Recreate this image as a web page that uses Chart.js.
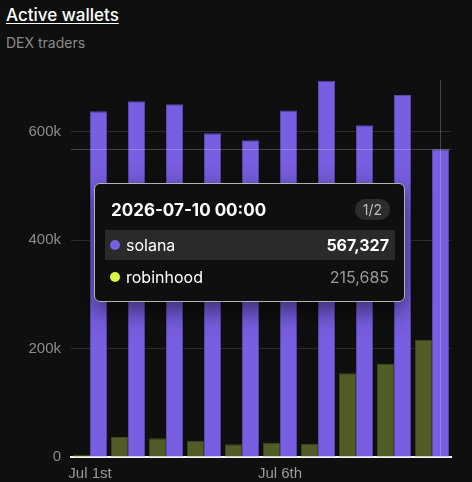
<!DOCTYPE html>
<html>
<head>
<meta charset="utf-8">
<script src="https://cdn.jsdelivr.net/npm/chart.js@4"></script>
<style>
  html, body { margin: 0; padding: 0; background: #0f0f0f; }
  body { width: 472px; height: 482px; position: relative; overflow: hidden; font-family: Inter, "Noto Sans", sans-serif; }
  #title { position: absolute; left: 6px; top: 5px; color: #fff; font-size: 17px; font-weight: 500; text-decoration: underline; text-underline-offset: 2px; }
  #subtitle { position: absolute; left: 6px; top: 34px; color: #8a8a8a; font-size: 14px; }
  #wrap { position: absolute; left: 0; top: 0; width: 472px; height: 482px; }
  #tip { position: absolute; left: 94px; top: 183px; width: 309px; height: 117px; background: #0f0f0f;
         border: 1px solid #b4b4b4; border-radius: 6px; box-shadow: 0 8px 24px rgba(0,0,0,0.55); box-sizing: content-box; }
  #tip .head { position: absolute; left: 16px; top: 16px; color: #fff; font-size: 17px; font-weight: 700; }
  #tip .badge { position: absolute; right: 14px; top: 15px; background: #2c2c2c; color: #bdbdbd; font-size: 14px;
                border-radius: 10px; padding: 2px 8px; }
  #tip .row { position: absolute; left: 10px; width: 290px; height: 30px; display: flex; align-items: center; font-size: 16px; color: #fff; }
  #tip .row.on { background: #2a2a2a; }
  #tip .dot { width: 10px; height: 10px; border-radius: 50%; margin-left: 5px; margin-right: 6px; }
  #tip .val { margin-left: auto; margin-right: 6px; }
</style>
</head>
<body>
<div id="title">Active wallets</div>
<div id="subtitle">DEX traders</div>
<div id="wrap"><canvas id="chart"></canvas></div>
<div id="tip"></div>
<script>
const categories = ["2026-07-01", "2026-07-02", "2026-07-03", "2026-07-04", "2026-07-05",
                    "2026-07-06", "2026-07-07", "2026-07-08", "2026-07-09", "2026-07-10"];
const tickLabels = ["Jul 1st", "", "", "", "", "Jul 6th", "", "", "", ""];
const yTicks = [0, 200000, 400000, 600000];
const robinhood = [4000, 36900, 34500, 30000, 23400, 25800, 24500, 154300, 171400, 215685];
const solana = [637200, 655700, 650200, 596700, 583800, 639000, 693600, 611400, 667300, 567327];
const hoverIndex = 9;

const purple = "#785ee0";
const lime = "#dcf53f";
const axisFont = { family: "'Liberation Sans', Arial, sans-serif", size: 15 };

// crosshair lines through the hovered bar
const crosshair = {
  id: "crosshair",
  afterDatasetsDraw(chart) {
    const el = chart.getDatasetMeta(1).data[hoverIndex];
    const a = chart.chartArea;
    const ctx = chart.ctx;
    ctx.save();
    ctx.strokeStyle = "rgba(255,255,255,0.22)";
    ctx.lineWidth = 1;
    ctx.beginPath();
    ctx.moveTo(Math.round(el.x) - 0.5, a.top);
    ctx.lineTo(Math.round(el.x) - 0.5, a.bottom);
    ctx.moveTo(a.left, Math.round(el.y) + 0.5);
    ctx.lineTo(a.right, Math.round(el.y) + 0.5);
    ctx.stroke();
    ctx.restore();
  }
};

const chart = new Chart(document.getElementById("chart"), {
  type: "bar",
  data: {
    labels: categories,
    datasets: [
      {
        label: "robinhood",
        data: robinhood,
        backgroundColor: "#525c26",
        borderColor: "#3d4520",
        borderWidth: 1,
        categoryPercentage: 0.9,
        barPercentage: 1.0,
      },
      {
        label: "solana",
        data: solana,
        backgroundColor: purple,
        borderColor: "#5a46b4",
        borderWidth: 1,
        categoryPercentage: 0.9,
        barPercentage: 1.0,
      },
    ],
  },
  options: {
    responsive: true,
    maintainAspectRatio: false,
    animation: false,
    events: [],
    layout: { padding: { top: 80, right: 21, left: 0, bottom: 0 } },
    plugins: {
      legend: { display: false },
      tooltip: { enabled: false },
    },
    scales: {
      x: {
        grid: { display: false, drawTicks: false },
        border: { display: true, color: "#f4f4f4", width: 2 },
        ticks: {
          autoSkip: false,
          maxRotation: 0,
          padding: 8,
          color: "#9a9a9a",
          font: axisFont,
          callback: (v, i) => tickLabels[i],
        },
        afterFit: (s) => { s.height = 25; },
      },
      y: {
        min: 0,
        max: 695000,
        border: { display: false },
        grid: { color: "rgba(255,255,255,0.13)", drawTicks: false, tickLength: 0 },
        ticks: {
          padding: 10,
          color: "#8c8c8c",
          font: axisFont,
          callback: (v) => (v === 0 ? "0" : v / 1000 + "k"),
        },
        afterBuildTicks: (s) => { s.ticks = yTicks.map((value) => ({ value })); },
        afterFit: (s) => { s.width = 71; },
      },
    },
  },
  plugins: [crosshair],
});

// tooltip box for the hovered day
const fmt = (n) => n.toLocaleString("en-US");
document.getElementById("tip").innerHTML =
  '<div class="head">' + categories[hoverIndex] + ' 00:00</div>' +
  '<div class="badge">1/2</div>' +
  '<div class="row on" style="top:46px"><span class="dot" style="background:' + purple + '"></span>solana' +
  '<span class="val" style="font-weight:700">' + fmt(solana[hoverIndex]) + '</span></div>' +
  '<div class="row" style="top:78px"><span class="dot" style="background:' + lime + '"></span>robinhood' +
  '<span class="val" style="color:#9a9a9a">' + fmt(robinhood[hoverIndex]) + '</span></div>';
</script>
</body>
</html>
